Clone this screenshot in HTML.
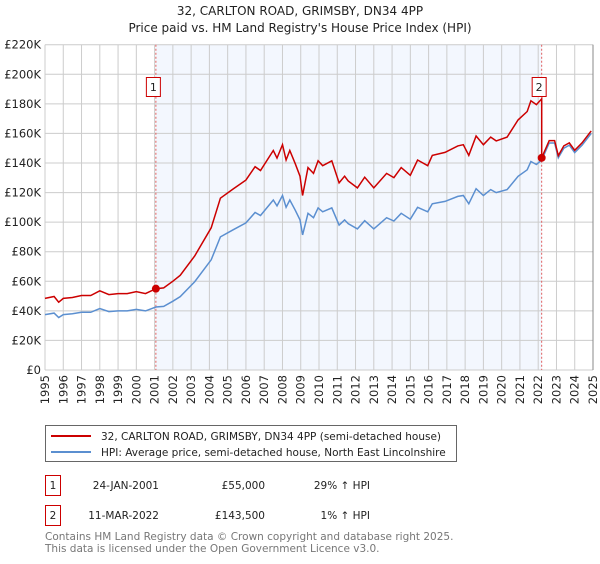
<!DOCTYPE html>
<html><head><meta charset="utf-8"><style>
body{margin:0;background:#fff;font-family:"DejaVu Sans","Liberation Sans",sans-serif;}
svg text{font-family:"DejaVu Sans","Liberation Sans",sans-serif;}
</style></head><body>
<svg width="600" height="560" viewBox="0 0 600 560">
<text x="300" y="15" text-anchor="middle" font-size="12" fill="#222">32, CARLTON ROAD, GRIMSBY, DN34 4PP</text>
<text x="300" y="32" text-anchor="middle" font-size="12" fill="#222">Price paid vs. HM Land Registry's House Price Index (HPI)</text>
<g id="plot"></g>
<g>
<rect x="45.5" y="425.5" width="411" height="36" fill="#fff" stroke="#666"/>
<line x1="51" y1="436" x2="91" y2="436" stroke="#cc0000" stroke-width="2"/>
<text x="101" y="440" font-size="10.5" fill="#222">32, CARLTON ROAD, GRIMSBY, DN34 4PP (semi-detached house)</text>
<line x1="51" y1="452" x2="91" y2="452" stroke="#5b8fd0" stroke-width="2"/>
<text x="101" y="456" font-size="10.5" fill="#222">HPI: Average price, semi-detached house, North East Lincolnshire</text>
</g>
<g font-size="10.5" fill="#222">
<rect x="45.5" y="475.5" width="15" height="20" fill="#fff" stroke="#cc0000"/>
<text x="53" y="489" text-anchor="middle">1</text>
<text x="159" y="489" text-anchor="end">24-JAN-2001</text>
<text x="265" y="489" text-anchor="end">£55,000</text>
<text x="370" y="489" text-anchor="end">29% ↑ HPI</text>
<rect x="45.5" y="505.5" width="15" height="20" fill="#fff" stroke="#cc0000"/>
<text x="53" y="519" text-anchor="middle">2</text>
<text x="159" y="519" text-anchor="end">11-MAR-2022</text>
<text x="265" y="519" text-anchor="end">£143,500</text>
<text x="370" y="519" text-anchor="end">1% ↑ HPI</text>
</g>
<text x="45" y="540" font-size="10.5" fill="#777">Contains HM Land Registry data © Crown copyright and database right 2025.</text>
<text x="45" y="552" font-size="10.5" fill="#777">This data is licensed under the Open Government Licence v3.0.</text>
</svg>
<script>
const yTicks=[0,20,40,60,80,100,120,140,160,180,200,220];
const xYears=[1995,1996,1997,1998,1999,2000,2001,2002,2003,2004,2005,2006,2007,2008,2009,2010,2011,2012,2013,2014,2015,2016,2017,2018,2019,2020,2021,2022,2023,2024,2025];
const hpiDates=[1995.0,1995.5,1995.75,1996.0,1996.5,1997.0,1997.5,1998.0,1998.5,1999.0,1999.5,2000.0,2000.5,2001.07,2001.5,2002.0,2002.4,2003.2,2004.1,2004.6,2005.3,2006.0,2006.5,2006.8,2007.5,2007.7,2008.0,2008.2,2008.4,2008.7,2008.96,2009.1,2009.4,2009.7,2009.95,2010.2,2010.7,2011.1,2011.4,2011.6,2012.1,2012.5,2013.0,2013.7,2014.1,2014.5,2015.0,2015.4,2015.95,2016.2,2016.9,2017.6,2017.9,2018.2,2018.6,2019.0,2019.4,2019.7,2020.3,2020.9,2021.4,2021.6,2021.9,2022.19,2022.6,2022.9,2023.1,2023.4,2023.7,2024.0,2024.4,2024.9];
const hpiValues=[37.5,38.5,35.5,37.5,38,39,39,41.5,39.5,40,40,41,40,42.6,43,46.5,49.6,59.8,74.5,90,94.8,99.5,106.5,104.5,115,111,118,110,115,108,101.5,91.4,106,103,109.6,107,109.6,98,101.5,99,95.4,101,95.4,103,100.8,106,102,110,107,112.4,114,117.4,118,112.4,122.6,118,122,120,122,131,135.4,141,139,142,153.5,153.5,143.5,150,152,147,152,160];
const saleDates=[2001.07,2022.19];
const salePrices=[55,143.5];
const L=45,R=593,T=44.7,B=370;
const xs=y=>L+(y-1995)/30*(R-L);
const ys=v=>B-v/220*(B-T);
const g=document.getElementById('plot');
const NS='http://www.w3.org/2000/svg';
function mk(t,a){const e=document.createElementNS(NS,t);for(const k in a)e.setAttribute(k,a[k]);g.appendChild(e);return e;}
let sh=mk('rect',{x:xs(saleDates[0]),y:T,width:xs(saleDates[1])-xs(saleDates[0]),height:B-T,fill:'#eef3fd',opacity:0.7});


yTicks.forEach(v=>{
 const l=mk('line',{x1:L,x2:R,y1:ys(v),y2:ys(v),stroke:'#ccc','stroke-width':1});
 
 
 const t=mk('text',{x:L-4,y:ys(v)+4,'text-anchor':'end','font-size':'11.5',fill:'#222'});
 t.textContent=v===0?'£0':'£'+v+'K';
 
 
});
xYears.forEach(yr=>{
 const l=mk('line',{x1:xs(yr),x2:xs(yr),y1:T,y2:B,stroke:'#ccc','stroke-width':1});
 
 
 const t=mk('text',{x:0,y:0,'text-anchor':'end','font-size':'11.5',fill:'#222',transform:'translate('+(xs(yr)+4)+','+(B+5)+') rotate(-90)'});
 t.textContent=yr;
 
 
});
mk('line',{x1:R,x2:R,y1:T,y2:B,stroke:'#888','stroke-width':1});
function hpiAt(d){for(let i=1;i<hpiDates.length;i++){if(d<=hpiDates[i]){const f=(d-hpiDates[i-1])/(hpiDates[i]-hpiDates[i-1]);return hpiValues[i-1]+f*(hpiValues[i]-hpiValues[i-1]);}}return hpiValues[hpiValues.length-1];}
const r1=salePrices[0]/hpiAt(saleDates[0]),r2=salePrices[1]/hpiAt(saleDates[1]);
let bp='',rp='';
hpiDates.forEach((d,i)=>{bp+=(i?'L':'M')+xs(d).toFixed(1)+','+ys(hpiValues[i]).toFixed(1);});
hpiDates.forEach((d,i)=>{if(d<saleDates[1]) rp+=(i?'L':'M')+xs(d).toFixed(1)+','+ys(hpiValues[i]*r1).toFixed(1);});
rp+='L'+xs(saleDates[1]).toFixed(1)+','+ys(hpiAt(saleDates[1])*r1).toFixed(1);
hpiDates.forEach((d,i)=>{if(d>=saleDates[1]) rp+='L'+xs(d).toFixed(1)+','+ys(hpiValues[i]*r2).toFixed(1);});
[0,1].forEach(i=>{
 const l=mk('line',{x1:xs(saleDates[i]),x2:xs(saleDates[i]),y1:T,y2:B,stroke:'#e06060','stroke-width':1,'stroke-dasharray':'2,2'});
 
 
});
const bl=mk('path',{d:bp,fill:'none',stroke:'#5b8fd0','stroke-width':1.5});


const rl=mk('path',{d:rp,fill:'none',stroke:'#cc0000','stroke-width':1.5});


[0,1].forEach(i=>{
 const c=mk('circle',{cx:xs(saleDates[i]),cy:ys(salePrices[i]),r:4,fill:'#cc0000'});
 
 
 const bx=xs(saleDates[i])-10;
 const r=mk('rect',{x:bx+0.5,y:77.5,width:14,height:19,fill:'#fff',stroke:'#cc0000'});
 
 
 const t=mk('text',{x:bx+7.5,y:91,'text-anchor':'middle','font-size':'11',fill:'#222'});
 t.textContent=String(i+1);
 
 
});
</script>
</body></html>
